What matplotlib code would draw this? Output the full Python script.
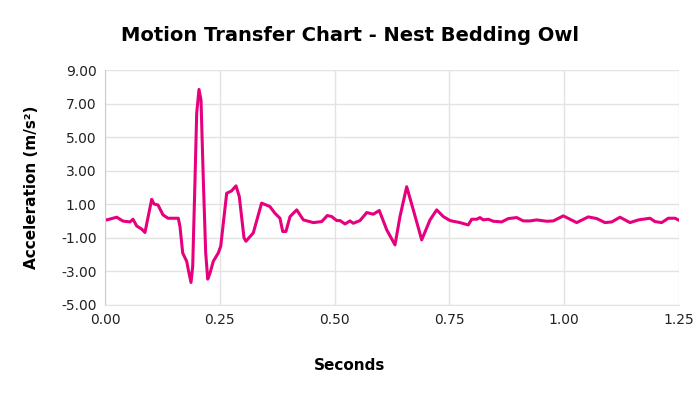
import matplotlib
matplotlib.use("Agg")
import matplotlib.pyplot as plt

title = "Motion Transfer Chart - Nest Bedding Owl"
x_label = "Seconds"
y_label = "Acceleration (m/s²)"

seconds = [0.0, 0.0037, 0.0255, 0.0392, 0.0544, 0.061, 0.069, 0.080, 0.087, 0.1017,
           0.1067, 0.1154, 0.1263, 0.1372, 0.1596, 0.1633, 0.1692, 0.1779, 0.1814, 0.1873,
           0.1910, 0.1960, 0.1997, 0.2047, 0.2091, 0.2141, 0.2193, 0.2237, 0.2287, 0.2358,
           0.2467, 0.252, 0.265, 0.2756, 0.2853, 0.2925, 0.3027,
           0.307, 0.323, 0.341, 0.359, 0.370, 0.381, 0.387, 0.394, 0.403, 0.4175,
           0.432, 0.4536, 0.472, 0.484, 0.4937, 0.5046, 0.5118, 0.5227, 0.5335, 0.5407,
           0.5553, 0.570, 0.5843, 0.5973, 0.6135, 0.6315, 0.6424, 0.657, 0.6714, 0.6897,
           0.7078, 0.7223, 0.7367, 0.7513, 0.773, 0.791, 0.7986, 0.8095, 0.8166, 0.8238,
           0.8347, 0.8456, 0.8639, 0.8783, 0.8966, 0.911, 0.9255, 0.9401, 0.9619, 0.9763,
           0.998, 1.0272, 1.0525, 1.0708, 1.0888, 1.1034, 1.1215, 1.1433, 1.1614, 1.1869,
           1.1977, 1.2123, 1.2267, 1.2413, 1.2485]
accel = [0.10, 0.07, 0.23, 0.0, -0.05, 0.11, -0.29, -0.48, -0.68, 1.30,
         1.02, 0.96, 0.37, 0.17, 0.17, -0.33, -1.9, -2.4, -2.9, -3.66,
         -2.7, 2.45, 6.44, 7.85, 7.2, 2.45, -1.9, -3.46, -3.1, -2.4,
         -1.9, -1.5, 1.66, 1.8, 2.1, 1.46, -1.0,
         -1.2, -0.7, 1.07, 0.87, 0.47, 0.17, -0.62, -0.62, 0.27, 0.67,
         0.07, -0.09, -0.03, 0.33, 0.27, 0.03, 0.03, -0.17, 0.01, -0.13,
         0.03, 0.51, 0.41, 0.63, -0.52, -1.42, 0.27, 2.05, 0.67, -1.12,
         0.07, 0.67, 0.27, 0.03, -0.09, -0.23, 0.11, 0.11, 0.21, 0.07,
         0.11, -0.01, -0.05, 0.15, 0.21, 0.01, 0.01, 0.07, -0.01, 0.01,
         0.31, -0.09, 0.25, 0.15, -0.09, -0.05, 0.23, -0.09, 0.07, 0.17,
         -0.03, -0.09, 0.17, 0.17, 0.07]

y_ticks = [-5, -3, -1, 1, 3, 5, 7, 9]
x_ticks = [0.0, 0.25, 0.5, 0.75, 1.0, 1.25]

plt.rcParams['font.family'] = ['DejaVu Sans']
fig = plt.figure(figsize=(7, 3.94), dpi=100)
ax = fig.add_axes([0.15, 0.226, 0.82, 0.596])
ax.plot(seconds, accel, color='#E6007E', lw=2.2, solid_joinstyle='round')
ax.set_xlim(0, 1.25)
ax.set_ylim(-5, 9)
ax.set_xticks(x_ticks)
ax.set_yticks(y_ticks)
ax.set_xticklabels([f"{v:.2f}" for v in x_ticks], fontsize=10)
ax.set_yticklabels([f"{v:.2f}" for v in y_ticks], fontsize=10)
ax.tick_params(length=0, pad=6, colors='#222222')
ax.grid(True, color='#e3e3e3', lw=1)
ax.set_axisbelow(True)
for s in ['top', 'right']:
    ax.spines[s].set_visible(False)
ax.spines['left'].set_color('#cccccc')
ax.spines['bottom'].set_color('#e3e3e3')
fig.text(0.5, 0.91, title, ha='center', va='center', fontsize=14, fontweight='bold')
fig.text(0.5, 0.073, x_label, ha='center', va='center', fontsize=11, fontweight='bold')
fig.text(0.045, 0.524, y_label, ha='center', va='center', rotation=90, fontsize=11, fontweight='bold')
fig.savefig("out.png", dpi=100, facecolor='white')
